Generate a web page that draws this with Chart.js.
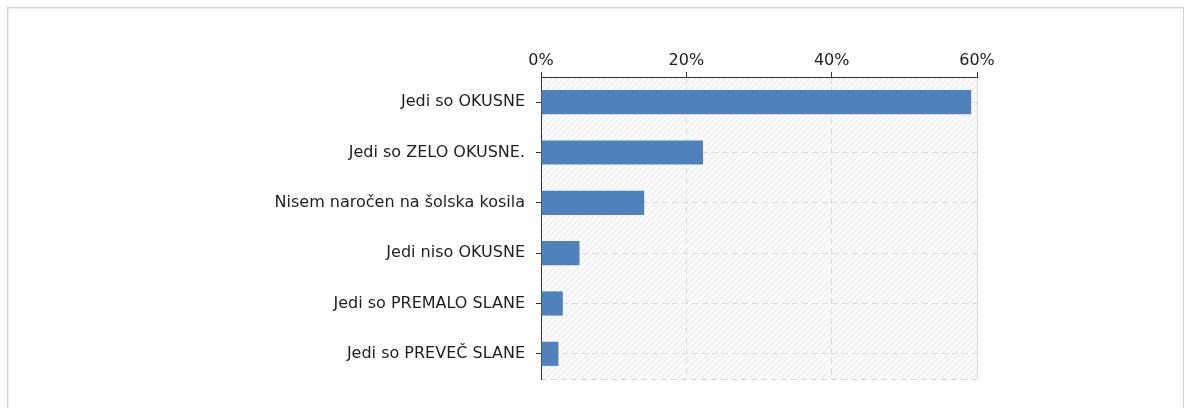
<!DOCTYPE html>
<html><head><meta charset="utf-8">
<script src="https://cdn.jsdelivr.net/npm/chart.js@4"></script>
<style>
html,body{margin:0;padding:0;background:#fff;overflow:hidden}
#frame{position:absolute;left:7px;top:7px;width:1175px;height:440px;border:1px solid #d4d4d4;box-shadow:inset 1px 1px 0 #ececec;}
#wrap{position:absolute;left:0;top:0;width:1187px;height:408px}
</style></head><body>
<div id="frame"></div>
<div id="wrap"><canvas id="c" width="1187" height="408"></canvas></div>
<script>
const categories = [
  "Jedi so OKUSNE",
  "Jedi so ZELO OKUSNE.",
  "Nisem naročen na šolska kosila",
  "Jedi niso OKUSNE",
  "Jedi so PREMALO SLANE",
  "Jedi so PREVEČ SLANE"
];
const values = [59.2, 22.3, 14.2, 5.3, 3.0, 2.4];
const tickValues = [0, 20, 40, 60];
const tickLabels = ["0%", "20%", "40%", "60%"];

const FONT = {family: "'DejaVu Sans', Verdana, sans-serif", size: 16};
const TXT = '#1e1e1e';

const plotBg = {
  id: 'plotBg',
  beforeDraw(chart) {
    const {ctx, chartArea: {left, top, right, bottom}} = chart;
    const p = document.createElement('canvas');
    p.width = 6; p.height = 6;
    const pc = p.getContext('2d');
    pc.fillStyle = '#fafafa'; pc.fillRect(0, 0, 6, 6);
    pc.fillStyle = '#e9e9e9';
    for (let i = 0; i < 6; i++) pc.fillRect(i, 5 - i, 1, 1);
    ctx.save();
    ctx.fillStyle = ctx.createPattern(p, 'repeat');
    ctx.fillRect(left, top, right - left, bottom - top);
    ctx.strokeStyle = '#d6d6d6';
    ctx.lineWidth = 1;
    ctx.beginPath(); ctx.moveTo(Math.round(right) + 0.5, top); ctx.lineTo(Math.round(right) + 0.5, bottom); ctx.stroke();
    ctx.setLineDash([6, 4]);
    ctx.beginPath(); ctx.moveTo(left, Math.round(bottom) + 0.5); ctx.lineTo(right, Math.round(bottom) + 0.5); ctx.stroke();
    ctx.restore();
  }
};

new Chart(document.getElementById('c'), {
  type: 'bar',
  data: {
    labels: categories,
    datasets: [{
      data: values,
      backgroundColor: '#4f81bd',
      borderWidth: 0,
      barPercentage: 0.48,
      categoryPercentage: 1
    }]
  },
  options: {
    indexAxis: 'y',
    responsive: false,
    animation: false,
    events: [],
    layout: {padding: {left: 0, top: 0, right: 210, bottom: 29}},
    plugins: {legend: {display: false}, tooltip: {enabled: false}, title: {display: false}},
    scales: {
      x: {
        position: 'top',
        min: tickValues[0],
        max: tickValues[tickValues.length - 1],
        afterBuildTicks: s => { s.ticks = tickValues.map(v => ({value: v})); },
        afterFit: s => { s.height = 77; },
        ticks: {
          color: TXT, font: FONT, padding: 2,
          callback: (v) => tickLabels[tickValues.indexOf(v)]
        },
        grid: {
          color: c => (c.tick && (c.tick.value === 60 || c.tick.value === 0)) ? 'rgba(0,0,0,0)' : '#dcdcdc',
          tickColor: '#333', tickLength: 5, lineWidth: 1
        },
        border: {display: true, color: '#333', width: 1, dash: [6, 4]}
      },
      y: {
        type: 'category',
        offset: true,
        afterFit: s => { s.width = 541; },
        ticks: {color: TXT, font: FONT, padding: 11},
        grid: {offset: false, color: '#dcdcdc', tickColor: '#333', tickLength: 5, lineWidth: 1},
        border: {display: true, color: '#333', width: 1, dash: [6, 4]}
      }
    }
  },
  plugins: [plotBg]
});
</script>
</body></html>
